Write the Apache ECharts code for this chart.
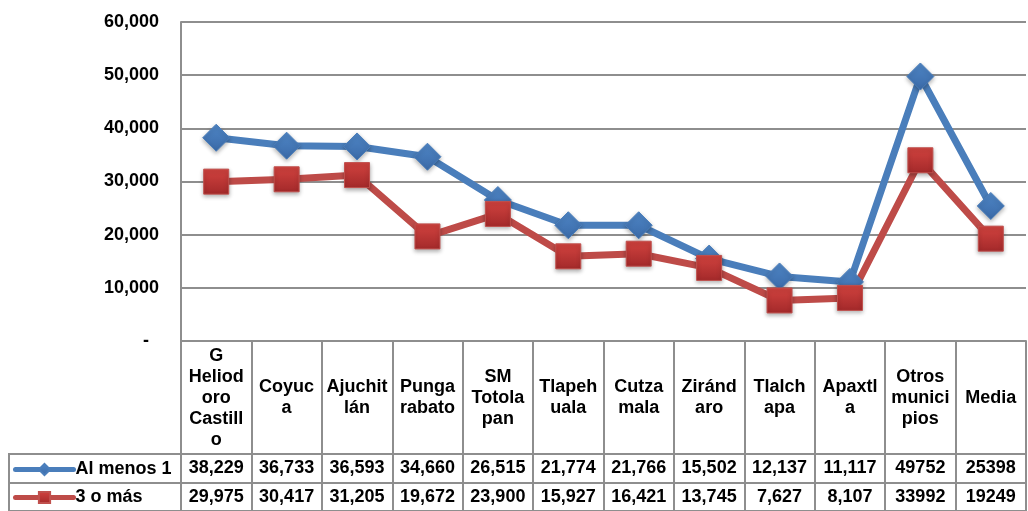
<!DOCTYPE html>
<html><head><meta charset="utf-8">
<script src="https://cdn.jsdelivr.net/npm/echarts@6/dist/echarts.min.js"></script>
<style>html,body{margin:0;padding:0;background:#fff}#c{width:1028px;height:511px}</style>
</head><body><div id="c"></div>
<script>
const categories = ['G\nHeliod\noro\nCastill\no','Coyuc\na','Ajuchit\nlán','Punga\nrabato','SM\nTotola\npan','Tlapeh\nuala','Cutza\nmala','Ziránd\naro','Tlalch\napa','Apaxtl\na','Otros\nmunici\npios','Media'];
const seriesNames = ['Al menos 1','3 o más'];
const alMenos1 = [38229,36733,36593,34660,26515,21774,21766,15502,12137,11117,49752,25398];
const tresOMas = [29975,30417,31205,19672,23900,15927,16421,13745,7627,8107,33992,19249];
const row1Labels = ['38,229','36,733','36,593','34,660','26,515','21,774','21,766','15,502','12,137','11,117','49752','25398'];
const row2Labels = ['29,975','30,417','31,205','19,672','23,900','15,927','16,421','13,745','7,627','8,107','33992','19249'];
const yMin = 0, yMax = 60000, yStep = 10000;

const FONT = 'Liberation Sans, Arial, sans-serif';
const GRAY = '#8e8e8e';
const BLUE = '#4a7ebb';
const RED = '#be4b48';

const chart = echarts.init(document.getElementById('c'), null, {renderer: 'canvas'});
const txt = {fontFamily: FONT, fontWeight: 'bold', fontSize: 18, color: '#000'};

chart.setOption({
  animation: false,
  backgroundColor: '#fff',
  grid: {left: 181, right: 2, top: 22, bottom: 170, containLabel: false},
  legend: {
    orient: 'vertical', left: 13, top: 459, height: 52, itemWidth: 58, itemHeight: 14, itemGap: 7,
    padding: 0,
    lineStyle: {width: 5, cap: 'round'},
    textStyle: Object.assign({}, txt, {lineHeight: 21, padding: [0, 0, 0, -3]}),
    data: seriesNames
  },
  xAxis: [
    {type: 'category', data: categories, position: 'bottom', boundaryGap: true,
     axisLine: {onZero: false, lineStyle: {color: GRAY, width: 2}},
     axisTick: {show: true, interval: 0, length: 170, lineStyle: {color: GRAY, width: 2}},
     axisLabel: Object.assign({}, txt, {interval: 0, margin: 57, verticalAlign: 'middle', lineHeight: 21, align: 'center'}),
     splitLine: {show: false}},
    {type: 'category', data: row1Labels, position: 'bottom', boundaryGap: true,
     axisLine: {show: false, onZero: false}, axisTick: {show: false},
     axisLabel: Object.assign({}, txt, {interval: 0, margin: 127, verticalAlign: 'middle'})},
    {type: 'category', data: row2Labels, position: 'bottom', boundaryGap: true,
     axisLine: {show: false, onZero: false}, axisTick: {show: false},
     axisLabel: Object.assign({}, txt, {interval: 0, margin: 156, verticalAlign: 'middle'})}
  ],
  yAxis: {
    type: 'value', min: yMin, max: yMax, interval: yStep,
    axisLine: {show: true, lineStyle: {color: GRAY, width: 2}},
    axisTick: {show: false},
    splitLine: {show: true, lineStyle: {color: GRAY, width: 2}},
    axisLabel: Object.assign({}, txt, {margin: 22, formatter: v => v === 0 ? '-  ' : v.toLocaleString('en-US')})
  },
  series: [
    {name: seriesNames[0], type: 'line', data: alMenos1, xAxisIndex: 0,
     symbol: 'diamond', symbolSize: 27,
     lineStyle: {color: BLUE, width: 7},
     itemStyle: {color: new echarts.graphic.LinearGradient(0,0,0,1,[{offset:0,color:'#4f86c6'},{offset:1,color:'#3a6aa8'}]),
       borderColor: '#4a7ebb', borderWidth: 1, shadowBlur: 4, shadowColor: 'rgba(0,0,0,0.3)', shadowOffsetY: 2},
     z: 3},
    {name: seriesNames[1], type: 'line', data: tresOMas, xAxisIndex: 0,
     symbol: 'rect', symbolSize: 25,
     lineStyle: {color: RED, width: 7},
     itemStyle: {color: new echarts.graphic.LinearGradient(0,0,0,1,[{offset:0,color:'#d2433f'},{offset:1,color:'#a3292a'}]),
       borderColor: '#c0504d', borderWidth: 1, shadowBlur: 4, shadowColor: 'rgba(0,0,0,0.3)', shadowOffsetY: 2},
     z: 3}
  ],
  graphic: [
    {type: 'line', shape: {x1: 9, y1: 454, x2: 1027, y2: 454}, style: {stroke: GRAY, lineWidth: 2}, silent: true},
    {type: 'line', shape: {x1: 9, y1: 483, x2: 1027, y2: 483}, style: {stroke: GRAY, lineWidth: 2}, silent: true},
    {type: 'line', shape: {x1: 9, y1: 510.5, x2: 1027, y2: 510.5}, style: {stroke: GRAY, lineWidth: 1}, silent: true},
    {type: 'line', shape: {x1: 9, y1: 453, x2: 9, y2: 511}, style: {stroke: GRAY, lineWidth: 2}, silent: true}
  ]
});
</script></body></html>
